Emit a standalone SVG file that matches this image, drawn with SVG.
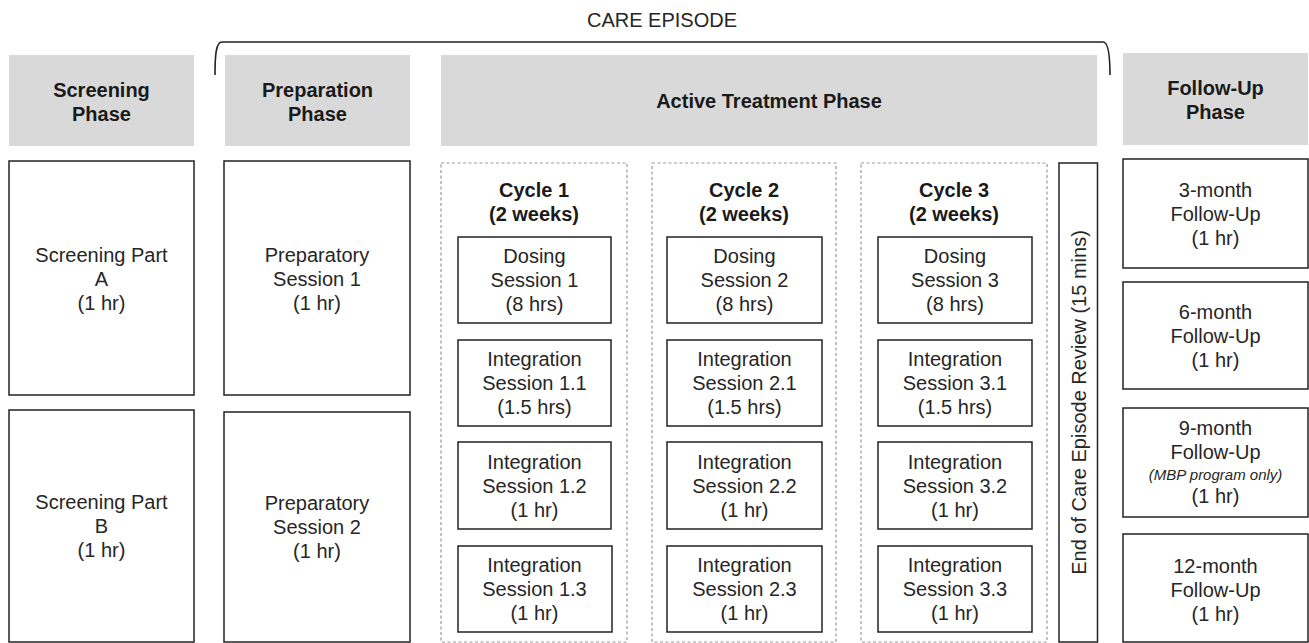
<svg xmlns="http://www.w3.org/2000/svg" width="1309" height="643" viewBox="0 0 1309 643">
<style>
.hdr{fill:#d9d9d9;stroke:none}
.box{fill:#fff;stroke:#222;stroke-width:1.5}
.dash{fill:none;stroke:#999;stroke-width:1.2;stroke-dasharray:3 2.5}
text{font-family:"Liberation Sans",Arial,sans-serif;font-size:20px;fill:#262626;text-anchor:middle}
.b{font-weight:bold;fill:#1a1a1a}
.it{font-style:italic;font-size:15px}
.brace{fill:none;stroke:#222;stroke-width:1.6}
</style>
<rect width="1309" height="643" fill="#fff"/>

<g id="brace">
<path class="brace" d="M215,75 C215,55 216,42 222,42 L1103,42 C1108,42 1110,55 1110,75"/>
<text x="662" y="27">CARE EPISODE</text>
</g>

<g id="hdr-screening"><rect class="hdr" x="9" y="55" width="185" height="91"/><text class="b" x="101.5" y="97">Screening</text><text class="b" x="101.5" y="121">Phase</text></g>
<g id="hdr-preparation"><rect class="hdr" x="225" y="55" width="185" height="91"/><text class="b" x="317.5" y="97">Preparation</text><text class="b" x="317.5" y="121">Phase</text></g>
<g id="hdr-active"><rect class="hdr" x="441" y="55" width="656" height="91"/><text class="b" x="769" y="108">Active Treatment Phase</text></g>
<g id="hdr-followup"><rect class="hdr" x="1123" y="53" width="185" height="92"/><text class="b" x="1215.5" y="95">Follow-Up</text><text class="b" x="1215.5" y="119">Phase</text></g>

<g id="screening-a"><rect class="box" x="9" y="161" width="185" height="234"/><text x="101.5" y="262">Screening Part</text><text x="101.5" y="286">A</text><text x="101.5" y="310">(1 hr)</text></g>
<g id="screening-b"><rect class="box" x="9" y="410" width="185" height="232"/><text x="101.5" y="509">Screening Part</text><text x="101.5" y="533">B</text><text x="101.5" y="557">(1 hr)</text></g>
<g id="prep-1"><rect class="box" x="224" y="161" width="186" height="234"/><text x="317" y="262">Preparatory</text><text x="317" y="286">Session 1</text><text x="317" y="310">(1 hr)</text></g>
<g id="prep-2"><rect class="box" x="224" y="412" width="186" height="230"/><text x="317" y="510">Preparatory</text><text x="317" y="534">Session 2</text><text x="317" y="558">(1 hr)</text></g>

<g id="cycle-1">
<rect class="dash" x="441" y="163" width="186" height="479"/>
<text class="b" x="534" y="197">Cycle 1</text><text class="b" x="534" y="221">(2 weeks)</text>
</g>
<g id="dosing-1"><rect class="box" x="458" y="237" width="153" height="86"/><text x="534.5" y="263">Dosing</text><text x="534.5" y="287">Session 1</text><text x="534.5" y="311">(8 hrs)</text></g>
<g id="integ-1-1"><rect class="box" x="458" y="340" width="153" height="86"/><text x="534.5" y="366">Integration</text><text x="534.5" y="390">Session 1.1</text><text x="534.5" y="414">(1.5 hrs)</text></g>
<g id="integ-1-2"><rect class="box" x="458" y="442" width="153" height="87"/><text x="534.5" y="469">Integration</text><text x="534.5" y="493">Session 1.2</text><text x="534.5" y="517">(1 hr)</text></g>
<g id="integ-1-3"><rect class="box" x="458" y="546" width="154" height="86"/><text x="534.5" y="572">Integration</text><text x="534.5" y="596">Session 1.3</text><text x="534.5" y="620">(1 hr)</text></g>

<g id="cycle-2">
<rect class="dash" x="652" y="163" width="184" height="479"/>
<text class="b" x="744" y="197">Cycle 2</text><text class="b" x="744" y="221">(2 weeks)</text>
</g>
<g id="dosing-2"><rect class="box" x="667" y="237" width="155" height="86"/><text x="744.5" y="263">Dosing</text><text x="744.5" y="287">Session 2</text><text x="744.5" y="311">(8 hrs)</text></g>
<g id="integ-2-1"><rect class="box" x="667" y="340" width="155" height="86"/><text x="744.5" y="366">Integration</text><text x="744.5" y="390">Session 2.1</text><text x="744.5" y="414">(1.5 hrs)</text></g>
<g id="integ-2-2"><rect class="box" x="667" y="442" width="155" height="87"/><text x="744.5" y="469">Integration</text><text x="744.5" y="493">Session 2.2</text><text x="744.5" y="517">(1 hr)</text></g>
<g id="integ-2-3"><rect class="box" x="667" y="546" width="155" height="86"/><text x="744.5" y="572">Integration</text><text x="744.5" y="596">Session 2.3</text><text x="744.5" y="620">(1 hr)</text></g>

<g id="cycle-3">
<rect class="dash" x="861" y="163" width="186" height="479"/>
<text class="b" x="954" y="197">Cycle 3</text><text class="b" x="954" y="221">(2 weeks)</text>
</g>
<g id="dosing-3"><rect class="box" x="878" y="237" width="154" height="86"/><text x="955" y="263">Dosing</text><text x="955" y="287">Session 3</text><text x="955" y="311">(8 hrs)</text></g>
<g id="integ-3-1"><rect class="box" x="878" y="340" width="154" height="86"/><text x="955" y="366">Integration</text><text x="955" y="390">Session 3.1</text><text x="955" y="414">(1.5 hrs)</text></g>
<g id="integ-3-2"><rect class="box" x="878" y="442" width="154" height="87"/><text x="955" y="469">Integration</text><text x="955" y="493">Session 3.2</text><text x="955" y="517">(1 hr)</text></g>
<g id="integ-3-3"><rect class="box" x="878" y="546" width="154" height="86"/><text x="955" y="572">Integration</text><text x="955" y="596">Session 3.3</text><text x="955" y="620">(1 hr)</text></g>

<g id="end-review"><rect class="box" x="1059" y="163" width="38.5" height="479"/><text transform="translate(1086,402.5) rotate(-90)" x="0" y="0">End of Care Episode Review (15 mins)</text></g>

<g id="fu-3"><rect class="box" x="1123" y="159" width="185" height="109"/><text x="1215.5" y="197">3-month</text><text x="1215.5" y="221">Follow-Up</text><text x="1215.5" y="245">(1 hr)</text></g>
<g id="fu-6"><rect class="box" x="1123" y="282" width="185" height="107"/><text x="1215.5" y="319">6-month</text><text x="1215.5" y="343">Follow-Up</text><text x="1215.5" y="367">(1 hr)</text></g>
<g id="fu-9"><rect class="box" x="1123" y="408" width="185" height="109"/><text x="1215.5" y="435">9-month</text><text x="1215.5" y="459">Follow-Up</text><text class="it" x="1215.5" y="480">(MBP program only)</text><text x="1215.5" y="503">(1 hr)</text></g>
<g id="fu-12"><rect class="box" x="1123" y="534" width="185" height="108"/><text x="1215.5" y="573">12-month</text><text x="1215.5" y="597">Follow-Up</text><text x="1215.5" y="621">(1 hr)</text></g>

<g id="connectors"></g>
</svg>
